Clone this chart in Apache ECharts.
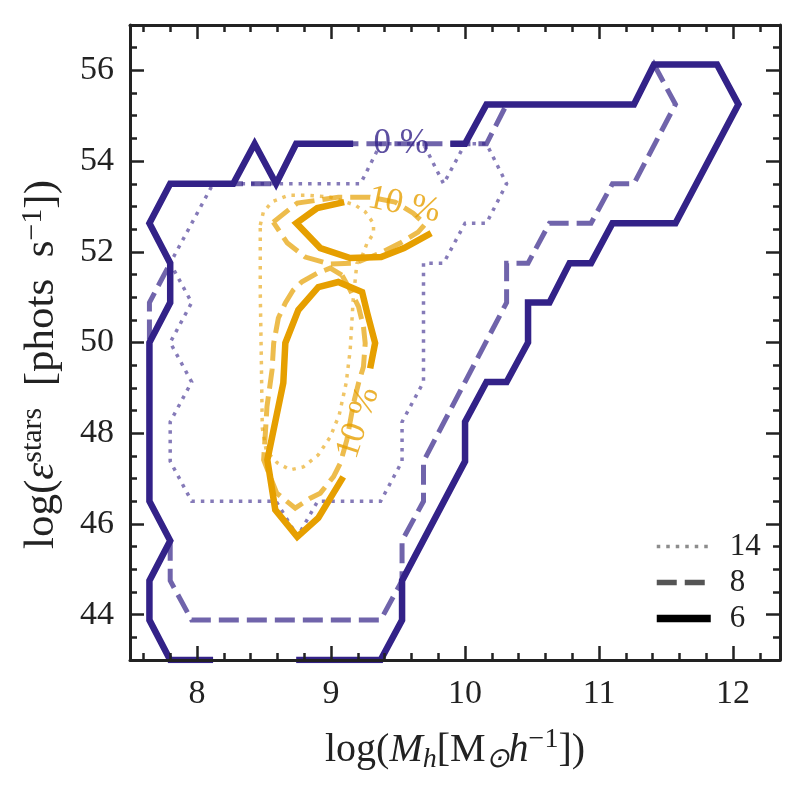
<!DOCTYPE html>
<html>
<head>
<meta charset="utf-8">
<script src="https://cdn.jsdelivr.net/npm/echarts@6/dist/echarts.min.js"></script>
<style>
  html, body { margin: 0; padding: 0; background: #fff; }
  #chart { width: 806px; height: 800px; }
</style>
</head>
<body>
<div id="chart"></div>
<script>
"use strict";
// axis ticks
const xMajorTicks = [8, 9, 10, 11, 12];
const yMajorTicks = [44, 46, 48, 50, 52, 54, 56];

// --- blue (0 %) contours, [logMh, logEps] ---
const blueSolidLeft = [
    [8.12, 43.0], [7.80, 43.0], [7.645, 43.88], [7.645, 44.75], [7.80, 45.63], [7.645, 46.5],
    [7.645, 50.0], [7.80, 50.88], [7.80, 51.75], [7.645, 52.63], [7.80, 53.5], [8.27, 53.5],
    [8.43, 54.38], [8.59, 53.5], [8.74, 54.38], [9.165, 54.38]
];
const blueSolidRight = [
    [9.89, 54.38], [10.0, 54.38], [10.16, 55.25], [11.26, 55.25], [11.41, 56.13], [11.88, 56.13],
    [12.04, 55.25], [11.57, 52.63], [11.10, 52.63], [10.94, 51.75], [10.78, 51.75], [10.63, 50.88],
    [10.47, 50.88], [10.47, 50.0], [10.31, 49.13], [10.16, 49.13], [10.0, 48.25], [10.0, 47.38],
    [9.53, 44.75], [9.53, 43.88], [9.37, 43.0], [8.74, 43.0]
];
const blueDashed = [
    [7.80, 45.63], [7.80, 44.75], [7.96, 43.88], [9.37, 43.88], [9.53, 44.75], [9.53, 45.63],
    [9.69, 46.5], [9.69, 47.38], [10.31, 50.88], [10.31, 51.75], [10.47, 51.75], [10.63, 52.63],
    [10.94, 52.63], [11.10, 53.5], [11.26, 53.5], [11.57, 55.25], [11.41, 56.13], [11.26, 55.25],
    [10.31, 55.25], [10.16, 54.38], [8.74, 54.38], [8.59, 53.5], [7.80, 53.5], [7.645, 52.63],
    [7.80, 51.75], [7.645, 50.88], [7.645, 46.5], [7.80, 45.63]
];
const blueDotted = [
    [8.12, 53.5], [9.22, 53.5], [9.37, 54.38], [9.69, 54.38], [9.84, 53.5], [10.0, 54.38],
    [10.16, 54.38], [10.31, 53.5], [10.16, 52.63], [10.0, 52.63], [9.84, 51.75], [9.69, 51.75],
    [9.69, 49.13], [9.53, 48.25], [9.53, 47.38], [9.37, 46.5], [8.90, 46.5], [8.75, 45.72],
    [8.59, 46.5], [7.96, 46.5], [7.80, 47.38], [7.80, 48.25], [7.96, 49.13], [7.80, 50.0],
    [7.96, 50.88], [7.80, 51.75], [8.12, 53.5]
];

// --- orange (10 %) contours ---
const orangeSolidTop = [
    [9.098, 53.095], [8.897, 52.963], [8.741, 52.632], [8.920, 52.082], [9.143, 51.861],
    [9.374, 51.883], [9.545, 52.081], [9.747, 52.412]
];
const orangeSolidBottom = [
    [9.292, 49.432], [9.329, 49.989], [9.270, 50.650], [9.232, 51.112], [9.054, 51.333],
    [8.905, 51.222], [8.756, 50.715], [8.659, 49.989], [8.644, 49.108], [8.525, 47.412],
    [8.584, 46.311], [8.748, 45.716], [8.905, 46.134], [9.091, 47.037]
];
const orangeDashedTop = [
    [8.569, 52.654], [8.681, 52.919], [8.748, 53.073], [9.054, 53.205], [9.292, 53.205],
    [9.478, 53.095], [9.613, 52.852], [9.702, 52.610], [9.650, 52.434], [9.516, 52.192],
    [9.367, 51.971], [9.180, 51.751], [8.994, 51.729], [8.808, 51.883], [8.674, 52.192],
    [8.569, 52.654]
];
const orangeDashedBottom = [
    [9.081, 51.487], [8.994, 51.641], [8.895, 51.524], [8.783, 51.339], [8.718, 51.156],
    [8.659, 50.870], [8.607, 50.540], [8.572, 49.982], [8.560, 49.394], [8.522, 48.586],
    [8.510, 48.0], [8.497, 47.412], [8.595, 46.678], [8.733, 46.348], [8.845, 46.568],
    [8.920, 46.678], [9.019, 47.044], [9.069, 47.339], [9.118, 47.852], [9.168, 48.661],
    [9.205, 49.101], [9.242, 49.467], [9.255, 49.982], [9.242, 50.348], [9.205, 50.789],
    [9.143, 51.156], [9.081, 51.487]
];
const orangeDotted = [
    [8.472, 52.588], [8.495, 52.874], [8.560, 53.101], [8.683, 53.249], [8.808, 53.249],
    [8.994, 53.205], [9.180, 53.029], [9.255, 52.881], [9.317, 52.626], [9.317, 52.405],
    [9.268, 52.185], [9.230, 51.890], [9.193, 51.744], [9.165, 50.936], [9.143, 49.835],
    [9.113, 49.108], [9.061, 48.403], [8.994, 47.919], [8.905, 47.522], [8.793, 47.258],
    [8.696, 47.192], [8.599, 47.346], [8.517, 47.610], [8.487, 48.117], [8.480, 49.614],
    [8.472, 51.090], [8.472, 52.588]
];

// contour labels: position, text, rotation
const contourLabels = [
    { pos: [9.523, 54.39], text: '0 %', color: '#332288', rotate: 0 },
    { pos: [9.545, 53.03], text: '10 %', color: '#E69F00', rotate: -12 },
    { pos: [9.203, 48.23], text: '10 %', color: '#E69F00', rotate: 72 }
];
const legendNames = ['14', '8', '6'];

const BLUE = '#332288';
const ORANGE = '#E69F00';
const FONT = 'Liberation Serif';
const X_MIN = 7.5, X_MAX = 12.35, Y_MIN = 43, Y_MAX = 57;

const xMinorTicks = [];
for (let v = 76; v <= 122; v += 2) {
    if (v % 10 !== 0) xMinorTicks.push(v / 10);
}
const yMinorTicks = [];
for (let v = 43; v <= 57; v += 0.5) {
    if (yMajorTicks.indexOf(v) < 0) yMinorTicks.push(v);
}

const styles = {
    solid: { width: 6.5, type: 'solid', opacity: 1 },
    dashed: { width: 5, type: [20, 8], opacity: 0.7 },
    dotted: { width: 3.5, type: [3.5, 6], opacity: 0.6 }
};

function contour(data, color, kind) {
    const s = styles[kind];
    return {
        type: 'line',
        data: data,
        symbol: 'none',
        silent: true,
        clip: true,
        z: 3,
        lineStyle: { color: color, width: s.width, type: s.type, opacity: s.opacity, cap: 'butt', join: 'miter' }
    };
}

function xAxisDef(position, ticks, long, labels) {
    return {
        type: 'value', position: position, min: X_MIN, max: X_MAX, z: 10,
        axisLine: { show: long, onZero: false, lineStyle: { color: '#222', width: 3 } },
        axisTick: { show: true, inside: true, customValues: ticks, length: long ? 14 : 7,
            lineStyle: { color: '#222', width: 2.5 } },
        axisLabel: labels ? { show: true, customValues: ticks, margin: 17, color: '#222',
            fontFamily: FONT, fontSize: 34 } : { show: false },
        splitLine: { show: false }
    };
}
function yAxisDef(position, ticks, long, labels) {
    return {
        type: 'value', position: position, min: Y_MIN, max: Y_MAX, z: 10,
        axisLine: { show: long, onZero: false, lineStyle: { color: '#222', width: 3 } },
        axisTick: { show: true, inside: true, customValues: ticks, length: long ? 14 : 7,
            lineStyle: { color: '#222', width: 2.5 } },
        axisLabel: labels ? { show: true, customValues: ticks, margin: 16, color: '#222',
            fontFamily: FONT, fontSize: 34 } : { show: false },
        splitLine: { show: false }
    };
}

const xAxes = [
    xAxisDef('bottom', xMajorTicks, true, true),
    xAxisDef('bottom', xMinorTicks, false, false),
    xAxisDef('top', xMajorTicks, true, false),
    xAxisDef('top', xMinorTicks, false, false)
];
Object.assign(xAxes[0], {
    name: '{n|log(}{i|M}{sub|h}{n|[M}{sub|⊙}{i|h}{sup|−1}{n|])}',
    nameLocation: 'middle',
    nameGap: 66,
    nameTextStyle: {
        color: '#222',
        rich: {
            n: { fontFamily: FONT, fontSize: 40, color: '#222', lineHeight: 48 },
            i: { fontFamily: FONT, fontSize: 40, fontStyle: 'italic', color: '#222', lineHeight: 48 },
            sub: { fontFamily: FONT, fontSize: 28, fontStyle: 'italic', color: '#222', verticalAlign: 'bottom', lineHeight: 26 },
            sup: { fontFamily: FONT, fontSize: 28, color: '#222', verticalAlign: 'top', lineHeight: 26 }
        }
    }
});
const yAxes = [
    yAxisDef('left', yMajorTicks, true, true),
    yAxisDef('left', yMinorTicks, false, false),
    yAxisDef('right', yMajorTicks, true, false),
    yAxisDef('right', yMinorTicks, false, false)
];
Object.assign(yAxes[0], {
    name: '{n|log(}{i|ε}{sup|stars}{n|  [phots  s}{sup|−1}{n|])}',
    nameLocation: 'middle',
    nameGap: 64,
    nameTextStyle: {
        color: '#222',
        padding: [0, 44, 0, 0],
        rich: {
            n: { fontFamily: FONT, fontSize: 43, color: '#222', lineHeight: 48 },
            i: { fontFamily: FONT, fontSize: 43, fontStyle: 'italic', color: '#222', lineHeight: 48 },
            sup: { fontFamily: FONT, fontSize: 30, color: '#222', verticalAlign: 'top', lineHeight: 26 }
        }
    }
});

const series = [
    contour(blueDotted, BLUE, 'dotted'),
    contour(blueDashed, BLUE, 'dashed'),
    contour(blueSolidLeft, BLUE, 'solid'),
    contour(blueSolidRight, BLUE, 'solid'),
    contour(orangeDotted, ORANGE, 'dotted'),
    contour(orangeDashedTop, ORANGE, 'dashed'),
    contour(orangeDashedBottom, ORANGE, 'dashed'),
    contour(orangeSolidTop, ORANGE, 'solid'),
    contour(orangeSolidBottom, ORANGE, 'solid')
];

contourLabels.forEach(function (l) {
    series.push({
        type: 'scatter',
        data: [l.pos],
        symbolSize: 0,
        silent: true,
        z: 5,
        label: {
            show: true,
            position: 'inside',
            formatter: l.text,
            rotate: l.rotate,
            color: l.color,
            fontFamily: FONT,
            fontSize: 35
        }
    });
});

// legend entries (line style only)
const legendColors = ['#8c8c8c', '#555555', '#000000'];
const legendKinds = ['dotted', 'dashed', 'solid'];
const legendWidths = [3.5, 5.5, 7.5];
const legendData = [];
legendNames.forEach(function (name, i) {
    const s = styles[legendKinds[i]];
    series.push({
        type: 'line',
        name: name,
        data: [],
        symbol: 'none',
        lineStyle: { color: legendColors[i], width: legendWidths[i], type: s.type, cap: 'butt' },
        itemStyle: { color: legendColors[i] }
    });
    legendData.push({
        name: name,
        lineStyle: { width: legendWidths[i], color: legendColors[i], type: s.type, cap: 'butt' }
    });
});

const chart = echarts.init(document.getElementById('chart'), null, { renderer: 'canvas' });
chart.setOption({
    animation: false,
    backgroundColor: '#fff',
    grid: { left: 130, right: 26, top: 25, bottom: 140, containLabel: false },
    legend: {
        data: legendData,
        orient: 'vertical',
        left: 648,
        top: 526,
        itemWidth: 54,
        itemHeight: 14,
        itemGap: 5,
        itemStyle: { opacity: 0 },
        textStyle: { fontFamily: FONT, fontSize: 31, color: '#222', lineHeight: 30, padding: [0, 0, 0, 14] }
    },
    xAxis: xAxes,
    yAxis: yAxes,
    series: series
});
</script>
</body>
</html>
